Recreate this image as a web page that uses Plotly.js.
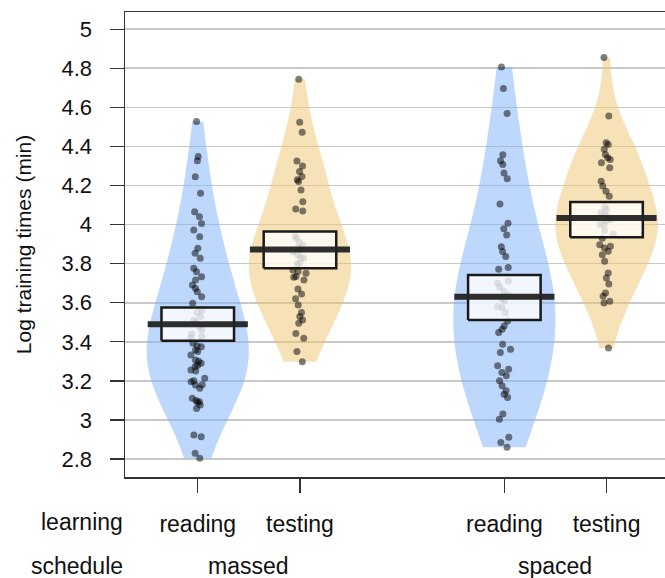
<!DOCTYPE html>
<html><head><meta charset="utf-8">
<script src="https://cdn.plot.ly/plotly-3.0.1.min.js"></script>
<style>html,body{margin:0;padding:0;background:#fff}</style>
</head><body><div id="chart" style="width:665px;height:578px"></div>
<script>
// ---- data ----
const groupNames = ['massed', 'spaced'];
const groupPositions = [1.5, 4.5];
const conditionNames = ['reading', 'testing', 'reading', 'testing'];
const beanPositions = [1, 2, 4, 5];

const massedReading = [4.527, 4.348, 4.327, 4.245, 4.160, 4.066, 4.040, 4.006, 3.972, 3.938, 3.879, 3.853, 3.827,
  3.776, 3.759, 3.733, 3.716, 3.691, 3.674, 3.656, 3.631, 3.597,
  3.563, 3.550, 3.530, 3.512, 3.500, 3.480, 3.460, 3.440, 3.426, 3.420,
  3.392, 3.380, 3.375, 3.358, 3.350, 3.332, 3.307, 3.300, 3.290, 3.280, 3.273, 3.256, 3.250,
  3.213, 3.200, 3.196, 3.180, 3.179, 3.162, 3.111, 3.100, 3.093, 3.090, 3.076, 3.059,
  2.923, 2.914, 2.829, 2.804];
const massedTesting = [4.744, 4.524, 4.472, 4.326, 4.300, 4.271, 4.246, 4.229, 4.220, 4.177, 4.117, 4.080, 4.070,
  3.940, 3.930, 3.910, 3.896, 3.880, 3.870, 3.860, 3.844, 3.830, 3.827, 3.802, 3.800, 3.768, 3.760, 3.751,
  3.734, 3.730, 3.716, 3.670, 3.645, 3.620, 3.588, 3.550, 3.529, 3.512, 3.495, 3.443, 3.418, 3.350, 3.298];
const spacedReading = [4.807, 4.697, 4.569, 4.358, 4.327, 4.307, 4.264, 4.235, 4.105, 4.007, 3.978, 3.947,
  3.887, 3.862, 3.836, 3.780, 3.771, 3.711, 3.700, 3.680, 3.660, 3.640, 3.620, 3.609, 3.580, 3.575, 3.550,
  3.507, 3.481, 3.464, 3.447, 3.388, 3.362, 3.345, 3.277, 3.260, 3.243, 3.226, 3.200, 3.175, 3.149, 3.132,
  3.115, 3.030, 3.004, 2.911, 2.885, 2.860];
const spacedTesting = [4.855, 4.556, 4.419, 4.410, 4.385, 4.359, 4.342, 4.333, 4.316, 4.291, 4.222, 4.197,
  4.171, 4.145, 4.090, 4.077, 4.060, 4.051, 4.040, 4.026, 4.020, 4.000, 4.000, 3.970, 3.950, 3.930,
  3.897, 3.889, 3.880, 3.863, 3.846, 3.812, 3.752, 3.726, 3.696, 3.650, 3.633, 3.607, 3.598, 3.368];

const beanMeans = [3.490, 3.873, 3.630, 4.034];
const beanLow   = [3.406, 3.776, 3.512, 3.935];
const beanHigh  = [3.576, 3.964, 3.742, 4.116];

const yTickVals = [2.8, 3, 3.2, 3.4, 3.6, 3.8, 4, 4.2, 4.4, 4.6, 4.8, 5];
const yTickText = ['2.8', '3', '3.2', '3.4', '3.6', '3.8', '4', '4.2', '4.4', '4.6', '4.8', '5'];

// ---- styling ----
const beanFills = ['rgba(125,175,249,0.5)', 'rgba(239,197,113,0.5)', 'rgba(125,175,249,0.5)', 'rgba(239,197,113,0.5)'];
const FONT = 'Liberation Sans, Arial, sans-serif';

function quantile(sorted, p) {
  const h = (sorted.length - 1) * p, lo = Math.floor(h), hi = Math.ceil(h);
  return sorted[lo] + (sorted[hi] - sorted[lo]) * (h - lo);
}
function nrd0(v) {
  const n = v.length, m = v.reduce((a, b) => a + b, 0) / n;
  const sd = Math.sqrt(v.reduce((a, b) => a + (b - m) * (b - m), 0) / (n - 1));
  const s = v.slice().sort((a, b) => a - b);
  const iqr = quantile(s, 0.75) - quantile(s, 0.25);
  return 0.9 * Math.min(sd, iqr / 1.34) * Math.pow(n, -0.2);
}

const series = [massedReading, massedTesting, spacedReading, spacedTesting];
const traces = [];
series.forEach((vals, i) => {
  traces.push({
    type: 'violin', orientation: 'v',
    x: vals.map(() => beanPositions[i]), y: vals,
    points: 'all', jitter: 0.16, pointpos: 0,
    marker: {color: 'rgba(0,0,0,0.5)', size: 7, line: {width: 0}},
    fillcolor: beanFills[i], line: {color: 'rgba(0,0,0,0)', width: 0},
    spanmode: 'hard', bandwidth: 1.4 * nrd0(vals), width: 1.0, scalemode: 'width',
    box: {visible: false}, meanline: {visible: false},
    showlegend: false, hoverinfo: 'y'
  });
});
// inference boxes
beanPositions.forEach((p, i) => {
  const hw = 0.355;
  traces.push({
    type: 'scatter', mode: 'lines', fill: 'toself',
    x: [p - hw, p + hw, p + hw, p - hw, p - hw],
    y: [beanLow[i], beanLow[i], beanHigh[i], beanHigh[i], beanLow[i]],
    fillcolor: 'rgba(255,255,255,0.78)', line: {color: '#1a1a1a', width: 2.5},
    showlegend: false, hoverinfo: 'skip'
  });
});
// mean bars
beanPositions.forEach((p, i) => {
  const hw = 0.49;
  traces.push({
    type: 'scatter', mode: 'lines',
    x: [p - hw, p + hw], y: [beanMeans[i], beanMeans[i]],
    line: {color: 'rgba(35,35,35,0.95)', width: 6},
    showlegend: false, hoverinfo: 'skip'
  });
});

const plotTop = 12, plotBottom = 477, plotH = plotBottom - plotTop;
const py = (pix) => (plotBottom - pix) / plotH;

const annotations = [
  {text: 'learning', xref: 'paper', yref: 'paper', x: (82 - 125) / 540, y: py(522)},
  {text: 'schedule', xref: 'paper', yref: 'paper', x: (77 - 125) / 540, y: py(566)}
];
groupNames.forEach((g, i) => annotations.push({text: g, xref: 'x', yref: 'paper', x: groupPositions[i], y: py(566)}));
annotations.forEach(a => { a.showarrow = false; a.xanchor = 'center'; a.yanchor = 'middle'; a.font = {family: FONT, size: 23, color: '#111'}; });

const layout = {
  width: 665, height: 578,
  margin: {l: 125, r: 0, t: plotTop, b: 578 - plotBottom},
  paper_bgcolor: '#fff', plot_bgcolor: '#fff',
  violinmode: 'overlay', showlegend: false,
  font: {family: FONT, color: '#111'},
  xaxis: {
    range: [0.288, 5.572], tickvals: beanPositions, ticktext: conditionNames,
    ticks: 'outside', ticklen: 14, tickwidth: 1.3, tickcolor: '#333',
    showline: true, linecolor: '#333', linewidth: 1.5, mirror: true,
    showgrid: false, zeroline: false, tickfont: {family: FONT, size: 23, color: '#111'},
    ticklabelstandoff: 12
  },
  yaxis: {
    range: [2.708, 5.088], tickvals: yTickVals, ticktext: yTickText,
    ticks: 'outside', ticklen: 14, tickwidth: 1.3, tickcolor: '#333',
    showline: true, linecolor: '#333', linewidth: 1.5, mirror: false,
    showgrid: true, gridcolor: 'rgb(200,200,200)', gridwidth: 1.6, zeroline: false,
    tickfont: {family: FONT, size: 22, color: '#111'}, ticklabelstandoff: 13,
    title: {text: 'Log training times (min)', font: {family: FONT, size: 21, color: '#111'}, standoff: 24}
  },
  annotations: annotations
};

Plotly.newPlot('chart', traces, layout, {staticPlot: true, displayModeBar: false});
</script>
</body></html>
